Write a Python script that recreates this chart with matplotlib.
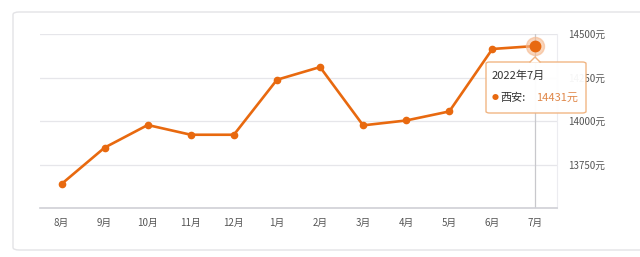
import matplotlib
matplotlib.use("Agg")
import matplotlib.pyplot as plt
from matplotlib.patches import FancyBboxPatch, Polygon
from matplotlib.lines import Line2D

plt.rcParams['font.family'] = ['Noto Sans CJK SC', 'DejaVu Sans']

#%% Dados
months = ['8月', '9月', '10月', '11月', '12月', '1月', '2月', '3月', '4月', '5月', '6月', '7月']
prices = [13638, 13847, 13977, 13921, 13921, 14237, 14310, 13975, 14003, 14055, 14414, 14431]
yticks = [13750, 14000, 14250, 14500]
ytick_labels = ['13750元', '14000元', '14250元', '14500元']
tip_title = '2022年7月'
tip_city = '西安:'
tip_value = '14431元'

orange = '#e8690f'

#%% Figura
fig = plt.figure(figsize=(6.4, 2.57), dpi=100)
fig.patch.set_facecolor('white')

# moldura externa
frame = FancyBboxPatch((13/640, 7/257), 640/640, 238/257,
                       boxstyle='round,pad=0,rounding_size=0.01',
                       transform=fig.transFigure, facecolor='white',
                       edgecolor='#e3e3e6', linewidth=1.0, zorder=-10)
fig.patches.append(frame)

ax = fig.add_axes([40/640, 1 - 208/257, 517/640, 174/257])
ax.set_facecolor('none')
x = list(range(len(months)))

ax.plot(x, prices, color=orange, linewidth=1.9, marker='o', markersize=4.5,
        zorder=3, clip_on=False)
# destaque do ultimo ponto
ax.plot(x[-1], prices[-1], 'o', markersize=13, color='#f6b98f', alpha=0.6,
        zorder=4, clip_on=False)
ax.plot(x[-1], prices[-1], 'o', markersize=7.5, color=orange, zorder=5, clip_on=False)

# linha vertical do cursor
ax.axvline(x[-1], color='#c8c8cc', linewidth=0.9, zorder=1)

ax.set_xlim(-0.5, len(months) - 0.5)
ax.set_ylim(13500, 14500)
ax.set_xticks(x)
ax.set_xticklabels(months, fontsize=7, color='#555555')
ax.set_yticks(yticks)
ax.set_yticklabels(ytick_labels, fontsize=7, color='#555555')
ax.yaxis.tick_right()
ax.tick_params(axis='y', length=0, pad=8)
ax.tick_params(axis='x', length=0, pad=7)
ax.grid(axis='y', color='#e6e6ea', linewidth=0.9)
ax.set_axisbelow(True)
for s in ['top', 'left']:
    ax.spines[s].set_visible(False)
ax.spines['right'].set_color('#ececf0')
ax.spines['bottom'].set_color('#cfd0d6')
ax.spines['bottom'].set_linewidth(1.2)

#%% Tooltip
tip = FancyBboxPatch((486/640, 1 - 113/257), 100/640, 51/257,
                     boxstyle='round,pad=0,rounding_size=0.006',
                     transform=fig.transFigure, facecolor='white',
                     edgecolor='#f0b27e', linewidth=1.0, alpha=0.95, zorder=10)
fig.patches.append(tip)
# seta do tooltip
cx, cy = 535/640, 1 - 62/257
dx, dy = 5/640, 5/257
fig.patches.append(Polygon([(cx - dx, cy - 0.6/257), (cx, cy + dy), (cx + dx, cy - 0.6/257)],
                           closed=True, transform=fig.transFigure,
                           facecolor='white', edgecolor='none', zorder=11))
fig.lines.append(Line2D([cx - dx, cx, cx + dx], [cy, cy + dy, cy],
                        transform=fig.transFigure, color='#f0b27e',
                        linewidth=1.0, zorder=12))
fig.text(492/640, 1 - 76/257, tip_title, fontsize=8, color='#333333',
         va='center', ha='left', zorder=11)
fig.text(492/640, 1 - 98/257, '\u25cf', fontsize=5, color=orange,
         va='center', ha='left', zorder=11)
fig.text(500/640, 1 - 98/257, tip_city, fontsize=8, color='#333333',
         va='center', ha='left', zorder=11)
fig.text(536/640, 1 - 98/257, tip_value, fontsize=8, color='#e0884a',
         va='center', ha='left', zorder=11)

fig.savefig('out.png', dpi=100)
